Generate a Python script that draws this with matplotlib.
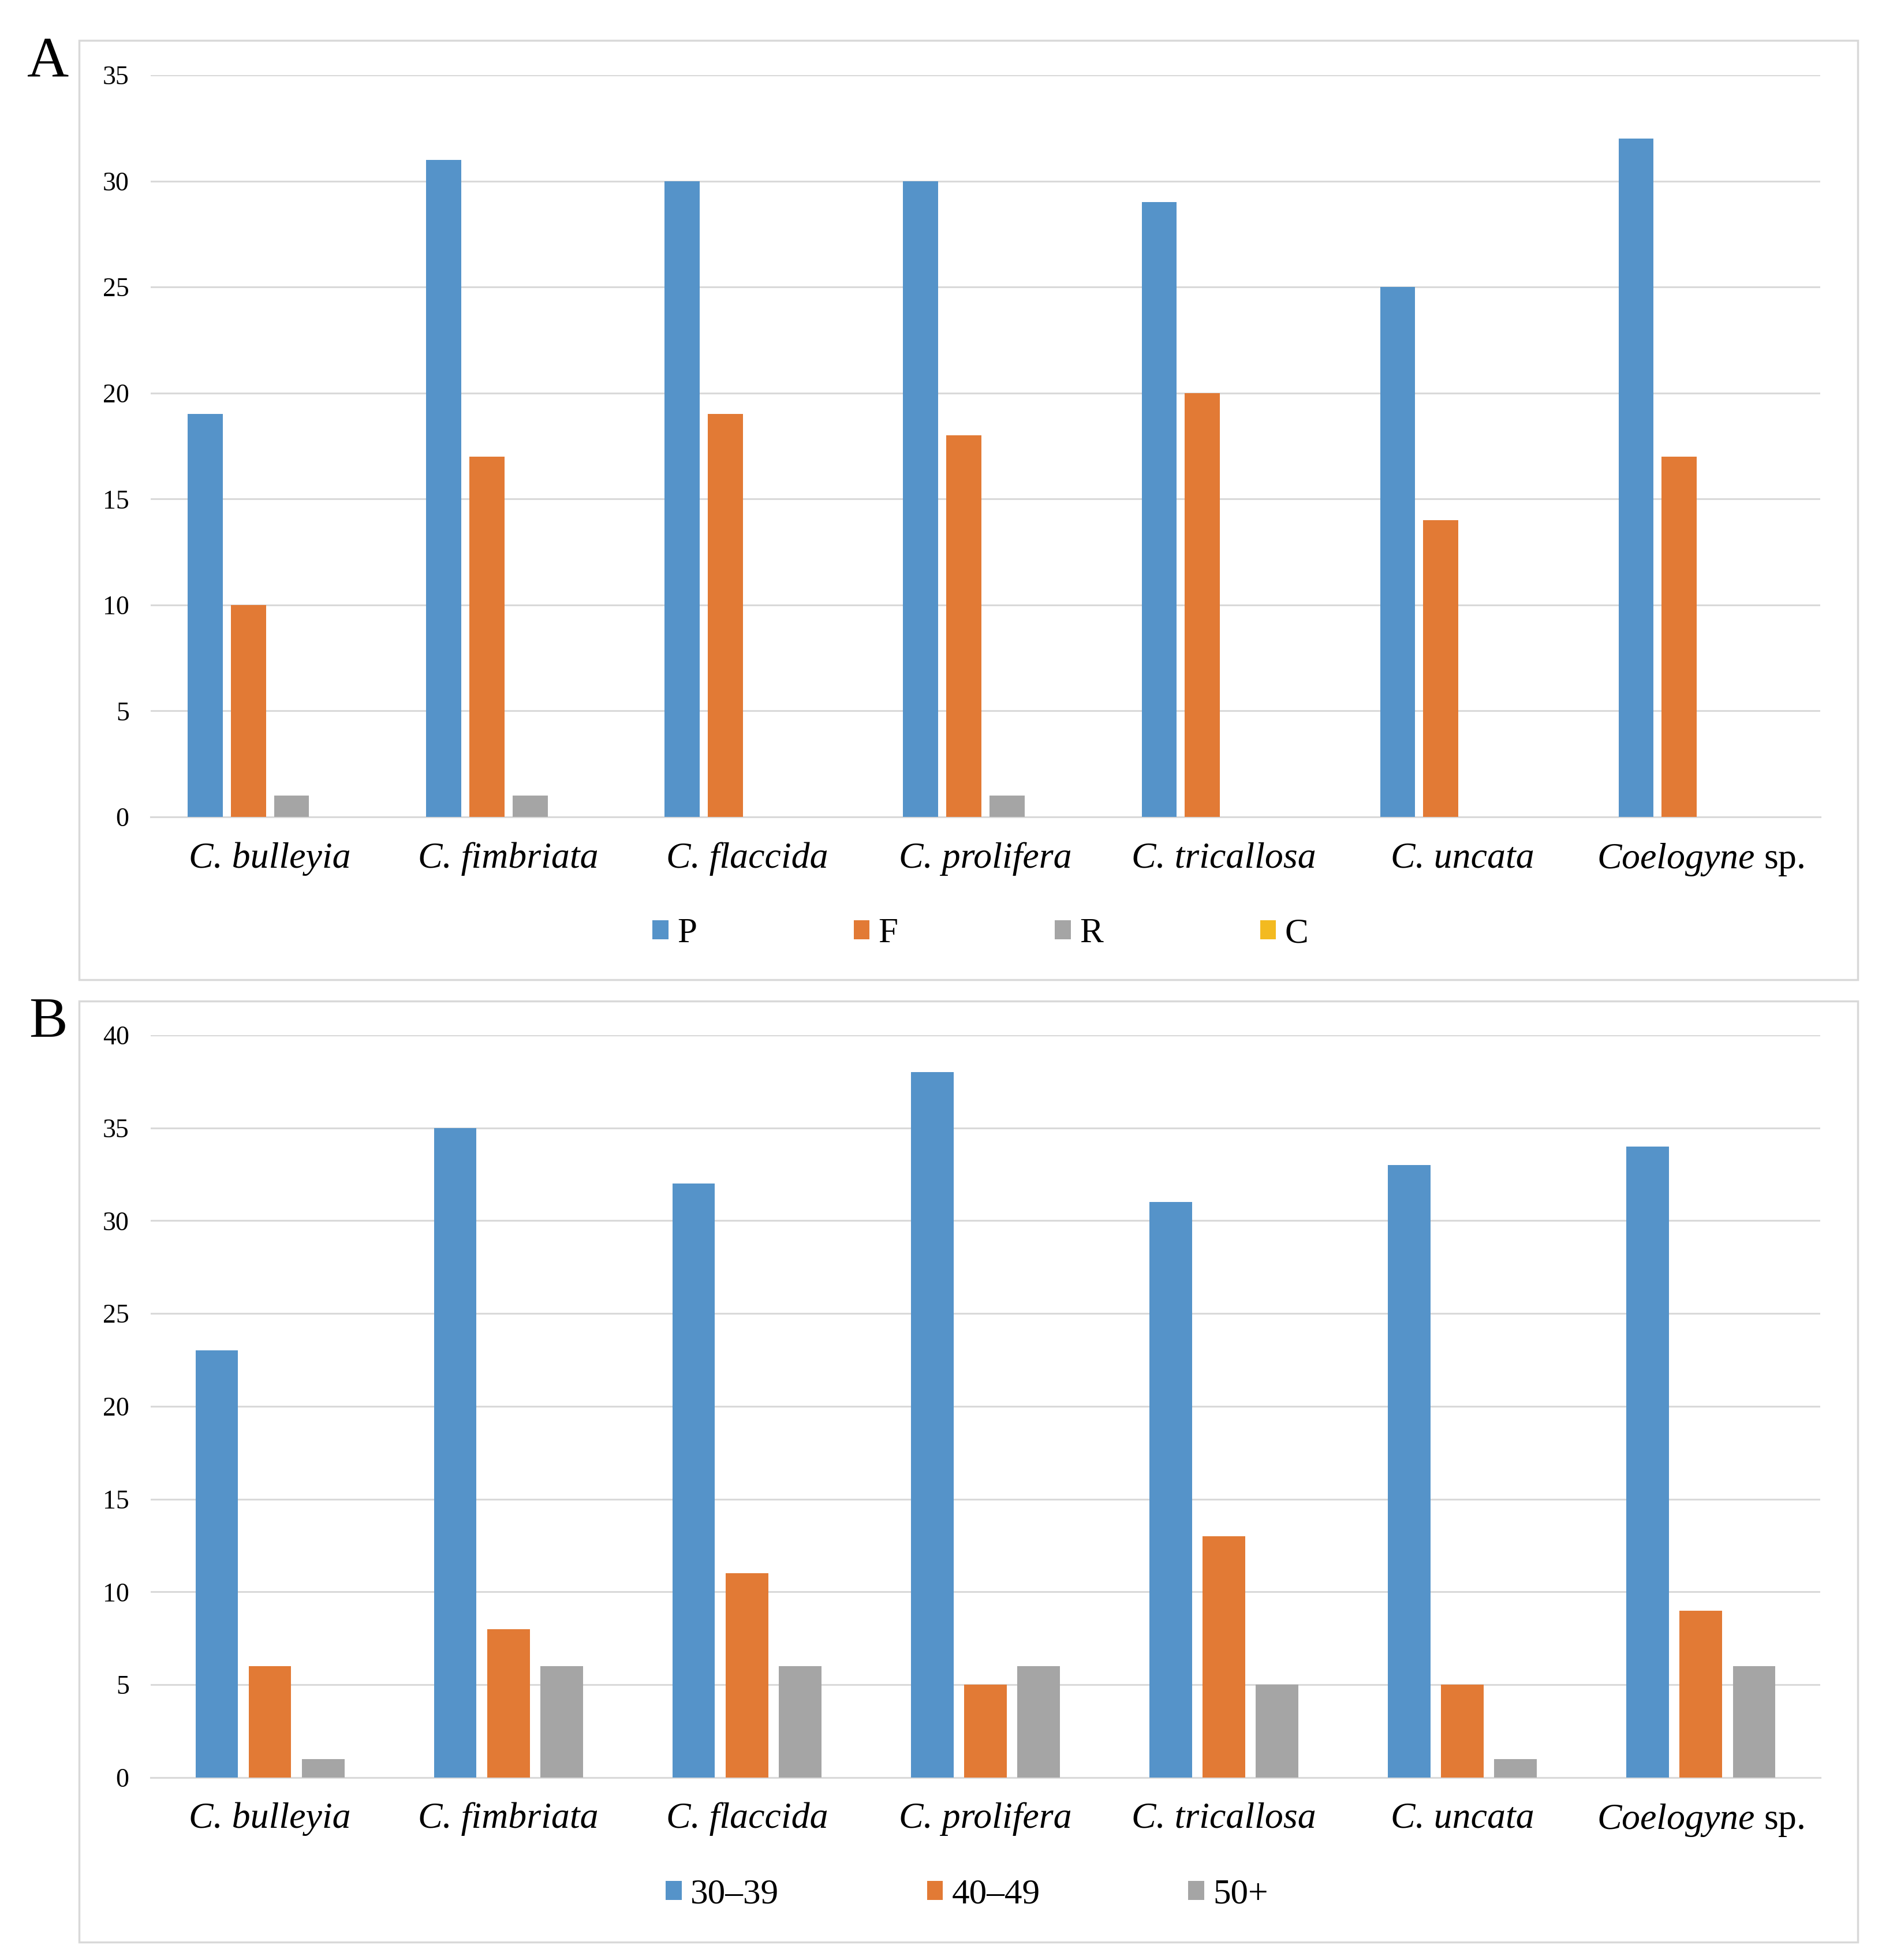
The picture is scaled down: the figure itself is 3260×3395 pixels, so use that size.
import matplotlib
matplotlib.use("Agg")
import matplotlib.pyplot as plt
from matplotlib.patches import Rectangle
import numpy as np

plt.rcParams['font.family'] = ['Liberation Serif', 'DejaVu Serif']
plt.rcParams['mathtext.fontset'] = 'custom'
plt.rcParams['mathtext.rm'] = 'Liberation Serif'
plt.rcParams['mathtext.it'] = 'Liberation Serif:italic'

species = ['C. bulleyia', 'C. fimbriata', 'C. flaccida', 'C. prolifera',
           'C. tricallosa', 'C. uncata', r'$\mathit{Coelogyne}$ sp.']

# panel A
a_labels = ['P', 'F', 'R', 'C']
a_P = [19, 31, 30, 30, 29, 25, 32]
a_F = [10, 17, 19, 18, 20, 14, 17]
a_R = [1, 1, 0, 1, 0, 0, 0]
a_C = [0, 0, 0, 0, 0, 0, 0]

# panel B
b_labels = ['30–39', '40–49', '50+']
b_30 = [23, 35, 32, 38, 31, 33, 34]
b_40 = [6, 8, 11, 5, 13, 5, 9]
b_50 = [1, 6, 6, 6, 5, 1, 6]

colors = ['#5593C9', '#E27A35', '#A5A5A5', '#F3BA20']
grid_col = '#D9D9D9'

fig = plt.figure(figsize=(32.6, 33.95), dpi=100)

# panel frames
for (y0, h) in [(0.5001, 0.4793), (0.0091, 0.4801)]:
    fig.patches.append(Rectangle((0.042, y0), 0.9451, h, transform=fig.transFigure,
                                 fill=False, edgecolor=grid_col, linewidth=2.5))


def draw(ax, series, labels, ymax, step, width, pitch, colspace, legx):
    x = np.arange(len(species))
    n = len(series)
    for i, (vals, lab) in enumerate(zip(series, labels)):
        off = (i - (n - 1) / 2) * pitch
        ax.bar(x + off, vals, width, color=colors[i], label=lab, zorder=3)
    ax.set_xlim(-0.5, len(species) - 0.5)
    ax.set_ylim(0, ymax)
    ax.set_yticks(np.arange(0, ymax + 1, step))
    ax.set_xticks(x)
    ax.set_xticklabels(species, fontsize=46)
    for t in ax.get_xticklabels()[:-1]:
        t.set_fontstyle('italic')
    ax.tick_params(axis='y', labelsize=33, length=0, pad=27)
    ax.tick_params(axis='x', length=0, pad=31)
    ax.grid(axis='y', color=grid_col, linewidth=2.2, zorder=0)
    ax.set_axisbelow(True)
    for s in ['top', 'right', 'left']:
        ax.spines[s].set_visible(False)
    ax.spines['bottom'].set_color(grid_col)
    ax.spines['bottom'].set_linewidth(2.2)
    ax.patch.set_alpha(0)
    leg = ax.legend(loc='upper center', bbox_to_anchor=(legx, -0.093), ncol=n, frameon=False,
                    fontsize=44, handlelength=0.45, handleheight=0.45, handletextpad=0.25,
                    columnspacing=colspace)
    return leg


axA = fig.add_axes([0.0801, 0.5832, 0.8870, 0.3785])
draw(axA, [a_P, a_F, a_R, a_C], a_labels, 35, 5, 0.147, 0.181, 4.45, 0.497)

axB = fig.add_axes([0.0801, 0.0931, 0.8870, 0.3788])
draw(axB, [b_30, b_40, b_50], b_labels, 40, 5, 0.178, 0.223, 4.2, 0.489)

fig.text(0.0255, 0.968, 'A', fontsize=72, ha='center', va='center')
fig.text(0.0255, 0.4784, 'B', fontsize=72, ha='center', va='center')

fig.savefig('out.png', dpi=100, facecolor='white')
